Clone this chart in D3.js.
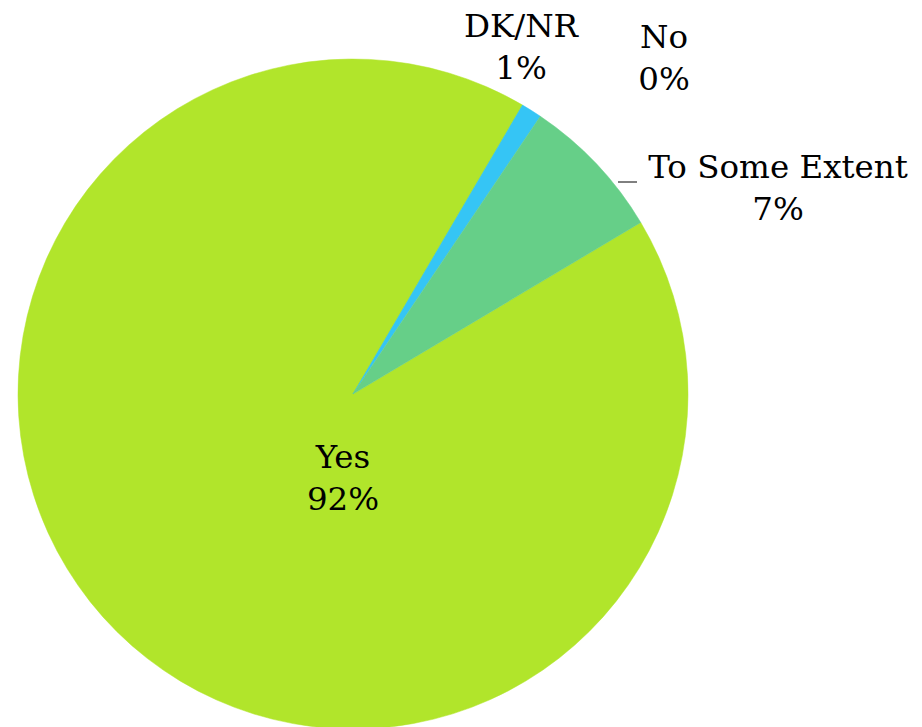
<!DOCTYPE html>
<html><head><meta charset="utf-8">
<script src="https://cdn.jsdelivr.net/npm/d3@7/dist/d3.min.js"></script>
<style>body{margin:0;background:#fff;}svg{display:block;}</style>
</head><body>
<script>
const categories = ["Yes", "No", "DK/NR", "To Some Extent"];
const values = [92, 0, 1, 7];
const labels = ["92%", "0%", "1%", "7%"];
const colors = ["#B1E52B", "#B1E52B", "#35C5F5", "#66CF88"];

const W = 922, H = 727;
const cx = 353, cy = 394, R = 335;
const startDeg = 59.2;

const svg = d3.select("body").append("svg").attr("width", W).attr("height", H);
const g = svg.append("g").attr("transform", `translate(${cx},${cy})`);

const pie = d3.pie().sort(null).value(d => d.v)
  .startAngle(startDeg * Math.PI / 180)
  .endAngle(startDeg * Math.PI / 180 + 2 * Math.PI);
const data = categories.map((c, i) => ({c, v: values[i], l: labels[i], col: colors[i]}));
const arcs = pie(data);
const arc = d3.arc().innerRadius(0).outerRadius(R);

g.selectAll("path").data(arcs).enter().append("path")
  .attr("d", arc).attr("fill", d => d.data.col)
  .attr("stroke", d => d.data.col).attr("stroke-width", 0.5);

// label layout (absolute positions of label centers / baselines)
const labelPos = {
  "Yes": {x: 343, y: 468},
  "DK/NR": {x: 521, y: 37},
  "No": {x: 664, y: 48},
  "To Some Extent": {x: 778, y: 178}
};
const lineGap = 42;
arcs.forEach(a => {
  const p = labelPos[a.data.c];
  const t = svg.append("text").attr("text-anchor", "middle")
    .attr("font-family", "'DejaVu Serif', serif").attr("font-size", 32.5).attr("fill", "#000");
  t.append("tspan").attr("x", p.x).attr("y", p.y).text(a.data.c);
  t.append("tspan").attr("x", p.x).attr("y", p.y + lineGap).text(a.data.l);
});
// leader line for To Some Extent
svg.append("line").attr("x1", 618).attr("x2", 637).attr("y1", 182).attr("y2", 182)
  .attr("stroke", "#000").attr("stroke-width", 1);
</script>
</body></html>
